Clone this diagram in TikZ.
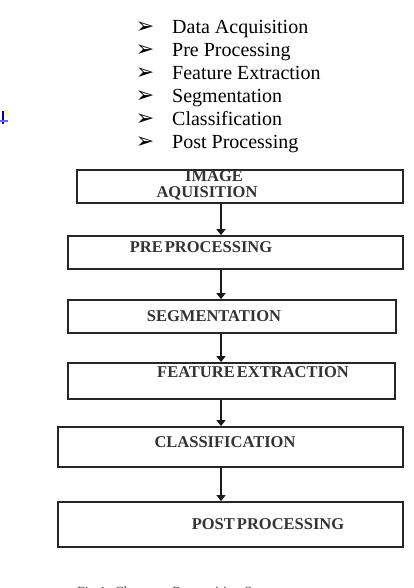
\documentclass[tikz,border=0pt]{standalone}
\usepackage{fontspec}
\setmainfont{Liberation Serif}
\newfontfamily\symfont{DejaVu Sans}
\usetikzlibrary{arrows.meta}
\begin{document}
\begin{tikzpicture}[x=1pt,y=-1pt,
  stepbox/.style={draw=black!85,line width=1.8pt,rectangle,inner sep=0pt},
  lab/.style={inner sep=0pt,font=\fontsize{16.5}{17}\selectfont\bfseries,text=black!80},
  item/.style={inner sep=0pt,anchor=base west,font=\fontsize{20}{23}\selectfont},
  bul/.style={inner sep=0pt,anchor=base,font=\symfont\fontsize{22}{22}\selectfont},
  arr/.style={draw=black!90,line width=1.8pt,-{Triangle[length=6pt,width=9pt]}}]
\clip (0,0) rectangle (413,588);
\fill[white] (0,0) rectangle (413,588);
% bullet list
\foreach \t [count=\i] in {Data Acquisition,Pre Processing,Feature Extraction,Segmentation,Classification,Post Processing}{
  \pgfmathsetmacro{\yy}{33.2+23*(\i-1)}
  \node[bul] (b\i) at (145,\yy) {➢};
  \node[item] (l\i) at (172,\yy) {\t};
}
% small mark at left
\draw[blue!70!black,line width=1.5pt] (3,111) -- (3,124);
\draw[blue!60,line width=1.5pt] (0,121) -- (8,121);
\fill[yellow!60,opacity=0.6] (4,110) rectangle (8,116);
% boxes
\node[stepbox,minimum width=326pt,minimum height=33pt] (s1) at (240,186.5) {};
\node[stepbox,minimum width=335pt,minimum height=33pt] (s2) at (235.5,252.5) {};
\node[stepbox,minimum width=328pt,minimum height=33pt] (s3) at (232,316.5) {};
\node[stepbox,minimum width=327pt,minimum height=36pt] (s4) at (231.5,381) {};
\node[stepbox,minimum width=345pt,minimum height=40pt] (s5) at (230.5,447) {};
\node[stepbox,minimum width=345pt,minimum height=45pt] (s6) at (230.5,524.5) {};
% labels
\node[lab] (t1a) at (214,176.5) {IMAGE};
\node[lab] (t1b) at (207,193.5) {AQUISITION};
\node[lab] (t2) at (201,247) {PRE\hspace{-2pt} PROCESSING};
\node[lab] (t3) at (214,316) {SEGMENTATION};
\node[lab] (t4) at (253,372) {FEATURE\hspace{-2pt} EXTRACTION};
\node[lab] (t5) at (225,442) {CLASSIFICATION};
\node[lab] (t6) at (268,524) {POST\hspace{-2pt} PROCESSING};
% arrows
\coordinate (ax) at (221,0);
\draw[arr] (s1.south -| ax) -- (s2.north -| ax);
\draw[arr] (s2.south -| ax) -- (s3.north -| ax);
\draw[arr] (s3.south -| ax) -- (s4.north -| ax);
\draw[arr] (s4.south -| ax) -- (s5.north -| ax);
\draw[arr] (s5.south -| ax) -- (s6.north -| ax);
% caption (cut off at the bottom edge)
\node[inner sep=0pt,anchor=base west,font=\fontsize{14}{14}\selectfont,text=black!75] (cap) at (77,596) {Fig.1. Character Recognition Steps};
\end{tikzpicture}
\end{document}
